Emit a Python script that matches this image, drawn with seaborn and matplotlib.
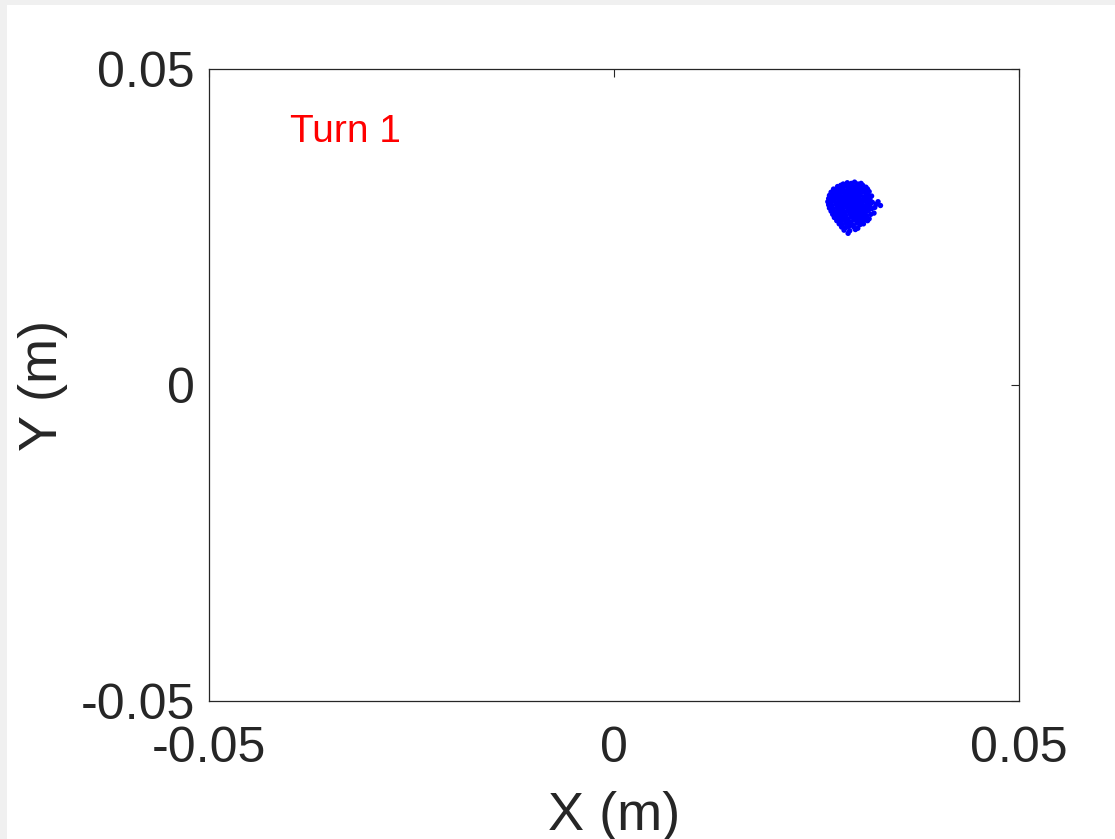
import matplotlib
matplotlib.use("Agg")
import matplotlib.pyplot as plt
import seaborn as sns
import pandas as pd
from matplotlib.patches import Rectangle

# ---- data ----
x_pts = [
    0.0283, 0.0288, 0.0293, 0.0297, 0.0301, 0.0305,
    0.0276, 0.0280, 0.0285, 0.0289, 0.0293, 0.0298, 0.0302, 0.0307, 0.0311,
    0.0271, 0.0275, 0.0279, 0.0283, 0.0288, 0.0292, 0.0296, 0.0300, 0.0304, 0.0309, 0.0313,
    0.0268, 0.0272, 0.0276, 0.0281, 0.0285, 0.0289, 0.0294, 0.0298, 0.0302, 0.0306, 0.0311, 0.0315,
    0.0266, 0.0270, 0.0275, 0.0279, 0.0283, 0.0287, 0.0292, 0.0296, 0.0300, 0.0304, 0.0309, 0.0313, 0.0318,
    0.0265, 0.0269, 0.0273, 0.0278, 0.0282, 0.0286, 0.0290, 0.0295, 0.0299, 0.0303, 0.0307, 0.0312, 0.0316,
    0.0264, 0.0268, 0.0272, 0.0277, 0.0281, 0.0285, 0.0289, 0.0293, 0.0298, 0.0302, 0.0306, 0.0310, 0.0315, 0.0319, 0.0326,
    0.0265, 0.0269, 0.0274, 0.0278, 0.0282, 0.0286, 0.0291, 0.0295, 0.0299, 0.0303, 0.0308, 0.0312, 0.0316, 0.0324, 0.0329,
    0.0266, 0.0270, 0.0275, 0.0279, 0.0283, 0.0288, 0.0292, 0.0296, 0.0300, 0.0305, 0.0309, 0.0313, 0.0318, 0.0322,
    0.0268, 0.0272, 0.0276, 0.0280, 0.0285, 0.0289, 0.0293, 0.0297, 0.0302, 0.0306, 0.0310, 0.0314, 0.0321,
    0.0270, 0.0274, 0.0278, 0.0282, 0.0286, 0.0291, 0.0295, 0.0299, 0.0303, 0.0308, 0.0312, 0.0317,
    0.0272, 0.0276, 0.0281, 0.0285, 0.0289, 0.0293, 0.0298, 0.0302, 0.0306, 0.0311, 0.0315,
    0.0275, 0.0279, 0.0283, 0.0287, 0.0292, 0.0296, 0.0300, 0.0305, 0.0309, 0.0313,
    0.0278, 0.0282, 0.0287, 0.0291, 0.0295, 0.0300, 0.0304, 0.0308,
    0.0281, 0.0286, 0.0290, 0.0296, 0.0301,
    0.0284, 0.0291, 0.0298,
    0.0289,
]
y_pts = [
    0.0318, 0.0320, 0.0319, 0.0321, 0.0318, 0.0319,
    0.0314, 0.0316, 0.0315, 0.0313, 0.0316, 0.0314, 0.0315, 0.0316, 0.0313,
    0.0310, 0.0309, 0.0311, 0.0310, 0.0308, 0.0311, 0.0309, 0.0310, 0.0311, 0.0309, 0.0310,
    0.0305, 0.0304, 0.0306, 0.0305, 0.0303, 0.0306, 0.0305, 0.0304, 0.0306, 0.0305, 0.0304, 0.0306,
    0.0300, 0.0299, 0.0301, 0.0300, 0.0298, 0.0301, 0.0300, 0.0299, 0.0301, 0.0300, 0.0298, 0.0301, 0.0299,
    0.0295, 0.0294, 0.0296, 0.0295, 0.0293, 0.0296, 0.0295, 0.0294, 0.0296, 0.0295, 0.0293, 0.0296, 0.0294,
    0.0290, 0.0289, 0.0291, 0.0290, 0.0288, 0.0291, 0.0290, 0.0289, 0.0291, 0.0290, 0.0288, 0.0291, 0.0290, 0.0289, 0.0290,
    0.0285, 0.0284, 0.0286, 0.0285, 0.0283, 0.0286, 0.0285, 0.0284, 0.0286, 0.0285, 0.0283, 0.0286, 0.0284, 0.0286, 0.0284,
    0.0280, 0.0279, 0.0281, 0.0280, 0.0278, 0.0281, 0.0280, 0.0279, 0.0281, 0.0280, 0.0278, 0.0281, 0.0279, 0.0281,
    0.0275, 0.0274, 0.0276, 0.0275, 0.0273, 0.0276, 0.0275, 0.0274, 0.0276, 0.0275, 0.0273, 0.0276, 0.0272,
    0.0270, 0.0269, 0.0271, 0.0270, 0.0268, 0.0271, 0.0270, 0.0269, 0.0271, 0.0270, 0.0268, 0.0270,
    0.0265, 0.0264, 0.0266, 0.0265, 0.0263, 0.0266, 0.0265, 0.0264, 0.0266, 0.0265, 0.0263,
    0.0260, 0.0259, 0.0261, 0.0260, 0.0258, 0.0261, 0.0260, 0.0259, 0.0261, 0.0260,
    0.0255, 0.0254, 0.0256, 0.0255, 0.0253, 0.0256, 0.0254, 0.0255,
    0.0250, 0.0249, 0.0251, 0.0250, 0.0248,
    0.0245, 0.0244, 0.0246,
    0.0240,
]
tick_vals = [-0.05, 0, 0.05]
tick_labels = ["-0.05", "0", "0.05"]
annotation = "Turn 1"
annotation_pos = (-0.04, 0.04)

df = pd.DataFrame({"X": x_pts, "Y": y_pts})

sns.set_theme(style="white")
plt.rcParams["font.family"] = ["Liberation Sans", "DejaVu Sans"]

fig = plt.figure(figsize=(11.15, 8.39), dpi=100, facecolor="white")
# light gray window border (top & left)
fig.patches.append(Rectangle((0, 1 - 5 / 839), 1, 5 / 839, transform=fig.transFigure,
                             facecolor="#f0f0f0", edgecolor="none", zorder=0))
fig.patches.append(Rectangle((0, 0), 7 / 1115, 1, transform=fig.transFigure,
                             facecolor="#f0f0f0", edgecolor="none", zorder=0))

ax = fig.add_axes([209 / 1115, 1 - 701 / 839, 810 / 1115, 632 / 839])
sns.scatterplot(data=df, x="X", y="Y", ax=ax, color="#0000ff", s=15,
                edgecolor="none", linewidth=0, legend=False)

ax.set_xlim(-0.05, 0.05)
ax.set_ylim(-0.05, 0.05)
ax.set_xticks(tick_vals)
ax.set_xticklabels(tick_labels)
ax.set_yticks(tick_vals)
ax.set_yticklabels(tick_labels)
ax.tick_params(axis="both", direction="in", length=6, width=0.8, color="#262626",
               labelsize=36, labelcolor="#262626", top=True, right=True)
ax.tick_params(axis="x", pad=18)
ax.tick_params(axis="y", pad=10)
for sp in ax.spines.values():
    sp.set_visible(True)
    sp.set_color("#262626")
    sp.set_linewidth(0.9)

ax.set_xlabel("X (m)", fontsize=39, color="#262626", labelpad=14)
ax.set_ylabel("Y (m)", fontsize=39, color="#262626", labelpad=9)

ax.text(annotation_pos[0], annotation_pos[1], annotation, color="#ff0000",
        fontsize=28, ha="left", va="center")

fig.savefig("out.png", dpi=100, facecolor=fig.get_facecolor())
